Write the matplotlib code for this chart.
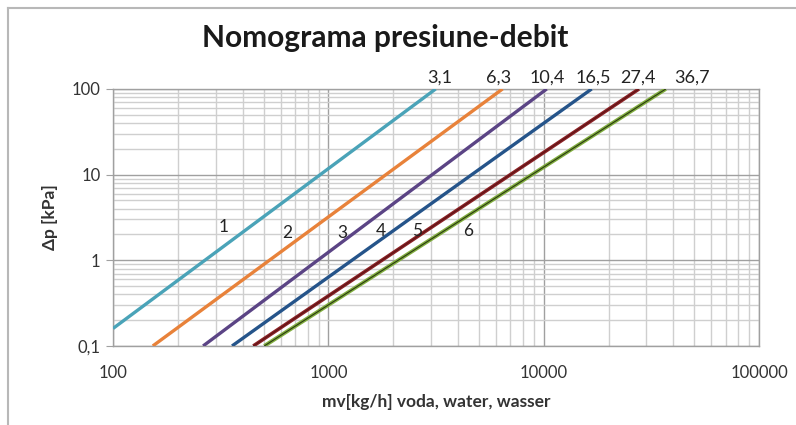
#!/usr/bin/env python3
"""Nomograma presiune-debit (log-log pressure drop vs mass flow)."""

import matplotlib
matplotlib.use("Agg")
import matplotlib.pyplot as plt
from matplotlib.ticker import FixedLocator, LogLocator, NullFormatter, FixedFormatter

plt.rcParams["font.family"] = ["Lato", "DejaVu Sans"]

# curve ids and Kv values
curve_ids = ["1", "2", "3", "4", "5", "6"]
kv_labels = ["3,1", "6,3", "10,4", "16,5", "27,4", "36,7"]

# line endpoints, mv [kg/h] and dp [kPa]
x_start = [100, 153, 262, 357, 448, 504]
y_start = [0.16, 0.1, 0.1, 0.1, 0.1, 0.1]
x_end = [3150, 6440, 10330, 16700, 27700, 36900]
y_end = [100, 100, 100, 100, 100, 100]

x_ticks = [100, 1000, 10000, 100000]
x_ticklabels = ["100", "1000", "10000", "100000"]
y_ticks = [0.1, 1, 10, 100]
y_ticklabels = ["0,1", "1", "10", "100"]

COLORS = ["#4aa3b8", "#e8823a", "#5b4485", "#25548a", "#8a2125", "#80ad3e"]
CORES = [None, None, None, None, "#5e1416", "#2b3a12"]
WIDTHS = [2.4, 2.4, 2.4, 2.4, 2.6, 2.8]

# label placement (data coords)
num_pos_x = [325, 644, 1161, 1746, 2594, 4477]
num_pos_y = [2.45, 2.1, 2.1, 2.2, 2.2, 2.2]
kv_pos_x = [3300, 6150, 10400, 16900, 27400, 49000]

fig = plt.figure(figsize=(7.96, 4.25), dpi=100)
ax = fig.add_axes([0.142, 0.186, 0.8116, 0.6047])

for i in range(len(curve_ids)):
    ax.plot([x_start[i], x_end[i]], [y_start[i], y_end[i]],
            color=COLORS[i], linewidth=WIDTHS[i], solid_capstyle="butt", zorder=3)
    if CORES[i]:
        ax.plot([x_start[i], x_end[i]], [y_start[i], y_end[i]],
                color=CORES[i], linewidth=0.8, solid_capstyle="butt", zorder=4)
    ax.text(num_pos_x[i], num_pos_y[i], curve_ids[i], ha="center", va="center",
            fontsize=12.5, color="#222222", zorder=5)
    ax.text(kv_pos_x[i], 136, kv_labels[i], ha="center", va="center",
            fontsize=13, color="#222222", clip_on=False)

ax.set_xscale("log")
ax.set_yscale("log")
ax.set_xlim(100, 100000)
ax.set_ylim(0.1, 100)

ax.xaxis.set_major_locator(FixedLocator(x_ticks))
ax.xaxis.set_major_formatter(FixedFormatter(x_ticklabels))
ax.yaxis.set_major_locator(FixedLocator(y_ticks))
ax.yaxis.set_major_formatter(FixedFormatter(y_ticklabels))
ax.xaxis.set_minor_locator(LogLocator(base=10, subs=range(2, 10)))
ax.yaxis.set_minor_locator(LogLocator(base=10, subs=range(2, 10)))
ax.xaxis.set_minor_formatter(NullFormatter())
ax.yaxis.set_minor_formatter(NullFormatter())

ax.grid(True, which="minor", color="#cfcfcf", linewidth=1.0, zorder=0)
ax.grid(True, which="major", color="#a0a0a0", linewidth=1.0, zorder=1)
ax.set_axisbelow(True)

ax.tick_params(which="major", direction="out", length=5, color="#a0a0a0",
               labelsize=12, labelcolor="#333333", pad=4)
ax.tick_params(axis="x", which="major", pad=14, length=0)
ax.tick_params(which="minor", length=0)
for s in ax.spines.values():
    s.set_color("#a0a0a0")
    s.set_linewidth(1.0)

ax.set_xlabel("mv[kg/h] voda, water, wasser", fontsize=12.5,
              fontweight="bold", color="#333333", labelpad=9)
ax.set_ylabel("Δp [kPa]", fontsize=12.5, fontweight="bold",
              color="#333333", labelpad=10)

fig.text(0.484, 0.91, "Nomograma presiune-debit", ha="center", va="center",
         fontsize=21.5, fontweight="bold", color="#1a1a1a")

# outer chart frame (top and left edges visible)
fig.add_artist(plt.Line2D([0.010, 0.010], [0.0, 0.981], color="#b8b8b8",
                          linewidth=1.5, transform=fig.transFigure))
fig.add_artist(plt.Line2D([0.010, 1.0], [0.981, 0.981], color="#b8b8b8",
                          linewidth=1.5, transform=fig.transFigure))

fig.savefig("out.png", dpi=100)
